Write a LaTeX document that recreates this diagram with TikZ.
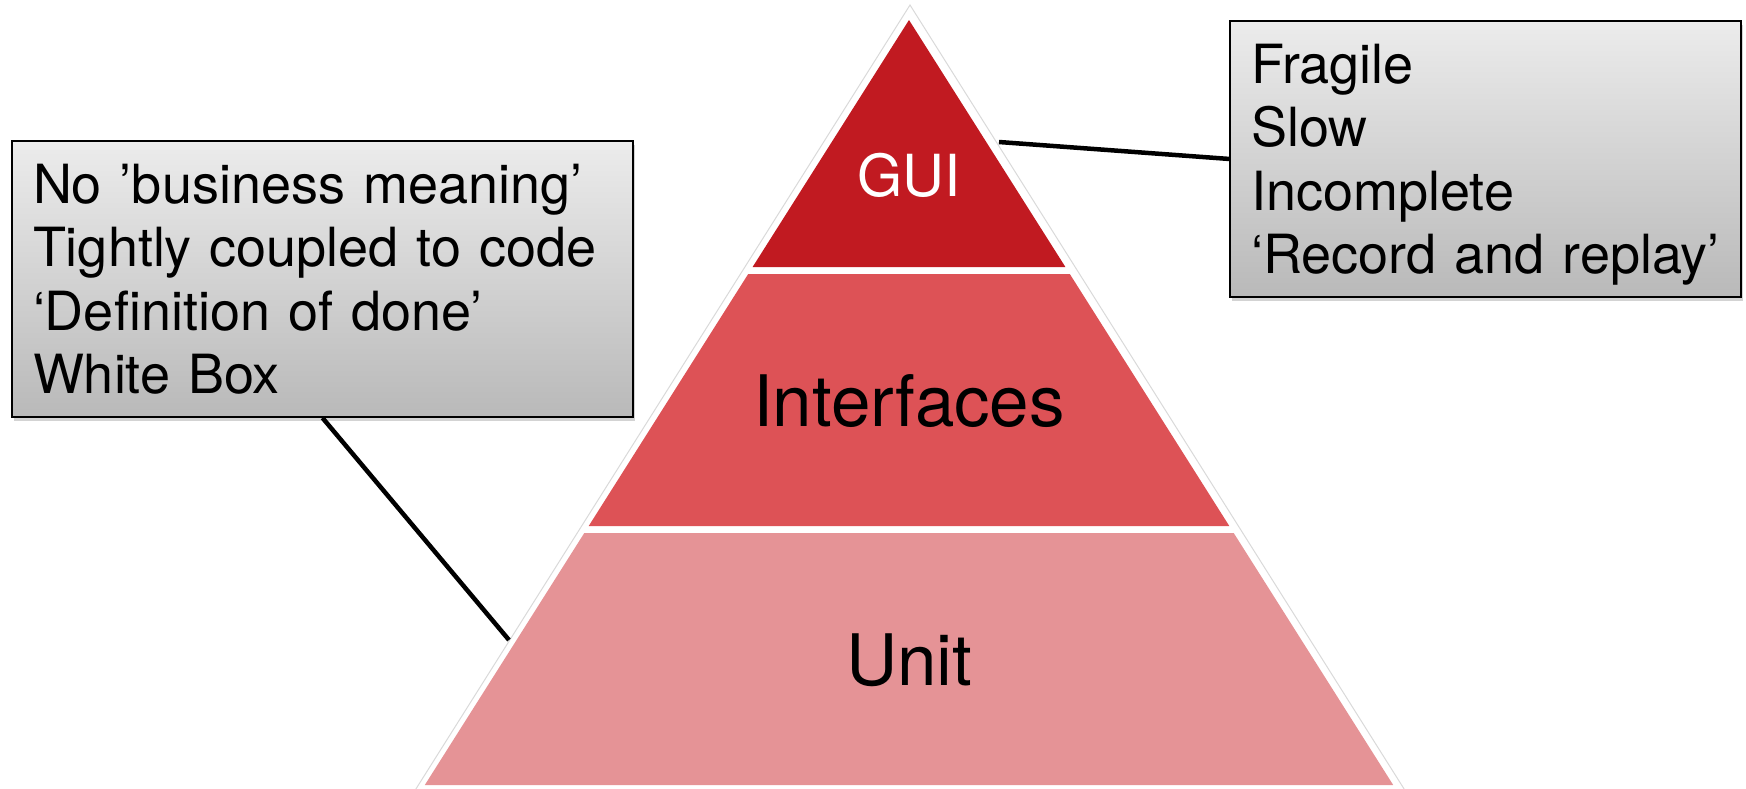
\documentclass[tikz,border=0pt]{standalone}
\usepackage{fontspec}
\setmainfont{TeX Gyre Heros}
\usetikzlibrary{shadows}

\definecolor{guired}{RGB}{193,26,33}
\definecolor{ifacered}{RGB}{221,82,86}
\definecolor{unitred}{RGB}{229,147,150}

\tikzset{
  callout/.style={draw=black, line width=2pt, top color=gray!15, bottom color=gray!55,
    align=left, anchor=north west, inner xsep=21pt, inner ysep=23pt, text depth=190.5pt,
    font=\fontsize{54}{63.5}\selectfont,
    drop shadow={shadow xshift=2pt, shadow yshift=-4pt, opacity=0.35}},
  leader/.style={line width=4.5pt, black},
  tier/.style={anchor=base, font=\fontsize{71}{71}\selectfont}
}

\begin{document}
\begin{tikzpicture}[x=1pt,y=-1pt]
            \useasboundingbox (0,0) rectangle (1746,788);
            \draw[gray!30, line width=1pt] (414,792) -- (910,5) -- (1406,792);
            \fill[guired] (909,20) -- (752.6,267) -- (1065.4,267) -- cycle;
            \fill[ifacered] (748.2,274) -- (1069.8,274) -- (1229.3,526) -- (588.7,526) -- cycle;
            \fill[unitred] (584.3,533) -- (1233.7,533) -- (1393.2,785) -- (424.8,785) -- cycle;
            \node[tier, white, font=\fontsize{58}{58}\selectfont] (gui) at (909,196) {GUI};
            \node[tier] (ifaces) at (909,426) {Interfaces};
            \node[tier] (unit) at (909,685) {Unit};
            \node[callout, text width=579pt] (lbox) at (11,140)
                {No ’business meaning’\\Tightly coupled to code\\‘Definition of done’\\White Box};
            \node[callout, text width=469pt] (rbox) at (1229,20)
                {Fragile\\Slow\\Incomplete\\‘Record and replay’};
            \coordinate (guiedge) at (999,142);
            \coordinate (unitedge) at (509,640);
            \draw[leader] (guiedge) -- (rbox.west);
            \draw[leader] (lbox.south) -- (unitedge);
        \end{tikzpicture}
\end{document}
